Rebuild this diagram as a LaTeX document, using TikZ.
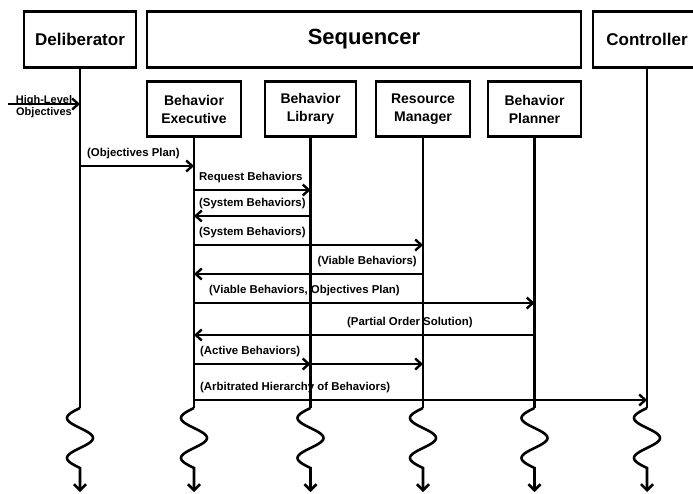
\documentclass[tikz,border=0pt]{standalone}
\usepackage{fontspec}
\setmainfont{Liberation Sans}
\usepackage{tikz}
\usetikzlibrary{positioning, arrows.meta}
\tikzstyle{blockBox}=[draw, line width=2.6pt, align=center, minimum height=56pt, font=\bfseries\fontsize{17}{20}\selectfont]
\tikzstyle{subBox}=[draw, line width=2.6pt, align=center, minimum height=55pt, font=\bfseries\fontsize{14}{18}\selectfont]
\tikzstyle{lifeLine}=[line width=2.6pt]
\tikzstyle{message}=[-{Straight Barb[length=6pt,width=11pt]}, line width=2.4pt]
\tikzstyle{msgLabel}=[font=\bfseries\fontsize{11.4}{13}\selectfont, inner sep=0pt, yshift=10pt]

\begin{document}
\begin{tikzpicture}[x=1pt, y=-1pt]
  \useasboundingbox (0,0) rectangle (693,493);

  % top row
  \node[blockBox, minimum width=112pt] (delib) at (80,39.5) {Deliberator};
  \node[blockBox, minimum width=434pt, font=\bfseries\fontsize{22}{26}\selectfont] (seq) at (364,39.5) {Sequencer};
  \node[blockBox, minimum width=108pt] (ctrl) at (647,39.5) {Controller};

  % sequencer parts
  \node[subBox, minimum width=94pt] (exec) at (194,109) {Behavior\\Executive};
  \node[subBox, minimum width=91pt] (lib) at (310.5,109) {Behavior\\Library};
  \node[subBox, minimum width=94pt] (rm) at (423,109) {Resource\\Manager};
  \node[subBox, minimum width=93pt] (plan) at (534.5,109) {Behavior\\Planner};

  % lifelines
  \coordinate (wave) at (0,408);
  \coordinate (bottom) at (0,492);
  \foreach \n in {delib, exec, lib, rm, plan, ctrl} {
    \draw[lifeLine] (\n.south) -- (\n.south |- wave);
    \draw[lifeLine, -{Straight Barb[length=6pt,width=12pt]}, shift={(\n.south |- wave)}]
      plot[domain=0:60, samples=61, smooth] ({-13*sin(9*\x)}, \x) -- (\n.south |- bottom);
  }

  % message levels
  \foreach \i/\y in {0/104, 1/166, 2/190, 3/216, 4/245, 5/274, 6/303, 7/335, 8/364, 9/400}
    \coordinate (m\i) at (0,\y);
  \coordinate (hlo) at (8,104);

  \draw[message] (hlo) -- node[font=\bfseries\fontsize{11}{12}\selectfont, anchor=base, yshift=1pt, inner sep=0pt] {High-Level}
    node[font=\bfseries\fontsize{11}{12}\selectfont, below, inner sep=2.5pt] {Objectives} (delib |- m0);

  \draw[message] (delib |- m1) -- node[msgLabel, pos=0, anchor=base west, xshift=6pt] {(Objectives Plan)} (exec |- m1);
  \draw[message] (exec |- m2) -- node[msgLabel, pos=0, anchor=base west, xshift=4pt] {Request Behaviors} (lib |- m2);
  \draw[message] (lib |- m3) -- node[msgLabel, pos=1, anchor=base west, xshift=4pt] {(System Behaviors)} (exec |- m3);
  \draw[message] (exec |- m4) -- node[msgLabel, pos=0, anchor=base west, xshift=4pt] {(System Behaviors)} (rm |- m4);
  \draw[message] (rm |- m5) -- node[msgLabel, pos=0, anchor=base east, xshift=-5pt] {(Viable Behaviors)} (exec |- m5);
  \draw[message] (exec |- m6) -- node[msgLabel, pos=0, anchor=base west, xshift=14pt] {(Viable Behaviors, Objectives Plan)} (plan |- m6);
  \draw[message] (plan |- m7) -- node[msgLabel, pos=.366, anchor=base] {(Partial Order Solution)} (exec |- m7);
  \draw[message] (exec |- m8) -- node[msgLabel, pos=0, anchor=base west, xshift=5pt] {(Active Behaviors)} (lib |- m8);
  \draw[message] (exec |- m8) -- (rm |- m8);
  \draw[message] (exec |- m9) -- node[msgLabel, pos=0, anchor=base west, xshift=5pt] {(Arbitrated Hierarchy of Behaviors)} (ctrl |- m9);

\end{tikzpicture}
\end{document}
